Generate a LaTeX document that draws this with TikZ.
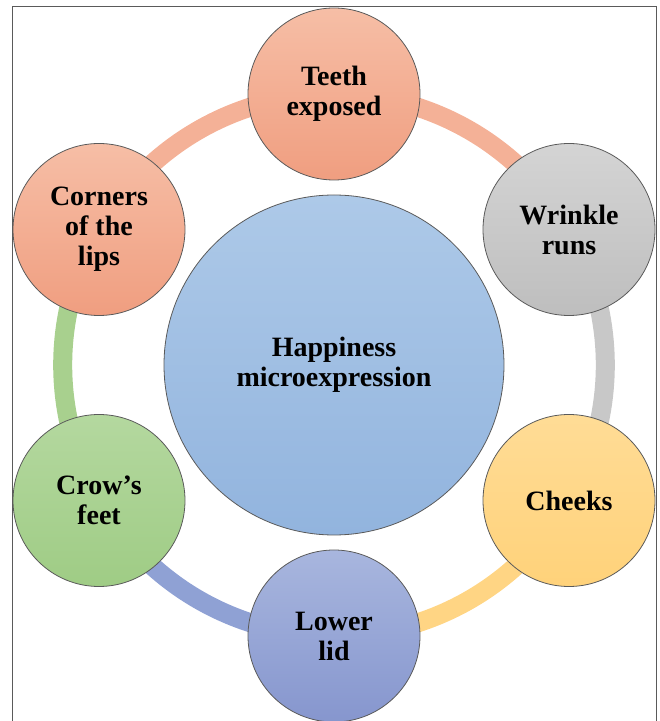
\documentclass[tikz,border=0pt]{standalone}
\usepackage{fontspec}
\setmainfont{Liberation Serif}
\usetikzlibrary{backgrounds}

% fill colours of the circles (top / bottom of the gradient) and the ring segments
\definecolor{salmonTop}{HTML}{F6BEA6}
\definecolor{salmonBot}{HTML}{F09E80}
\definecolor{salmonArc}{HTML}{F4B197}
\definecolor{greyTop}{HTML}{D4D4D4}
\definecolor{greyBot}{HTML}{BEBEBE}
\definecolor{greyArc}{HTML}{C8C8C8}
\definecolor{yellowTop}{HTML}{FFDC96}
\definecolor{yellowBot}{HTML}{FFD27A}
\definecolor{yellowArc}{HTML}{FFD584}
\definecolor{lidTop}{HTML}{A8B6DE}
\definecolor{lidBot}{HTML}{8696CE}
\definecolor{lidArc}{HTML}{8FA1D4}
\definecolor{greenTop}{HTML}{B4D89F}
\definecolor{greenBot}{HTML}{9FCC85}
\definecolor{greenArc}{HTML}{A8D08E}
\definecolor{hubTop}{HTML}{ADC9E8}
\definecolor{hubBot}{HTML}{92B4DE}
\definecolor{rimGrey}{HTML}{5A5A5A}

\tikzset{
  bubble/.style={circle, draw=rimGrey, line width=0.8pt, inner sep=0pt,
    minimum size=172pt, align=center,
    font=\fontsize{28}{30}\selectfont\bfseries},
  hub/.style={bubble, minimum size=340pt},
  ringseg/.style={line width=19pt},
}

\begin{document}
\begin{tikzpicture}[x=1pt,y=1pt]
  \useasboundingbox (0,0) rectangle (660,721);
  % outer frame (its lower edge lies below the page)
  \draw[rimGrey, line width=1pt] (12,-5) rectangle (656,714);

  % centre
  \node[hub, top color=hubTop, bottom color=hubBot] (hub) at (334,356)
    {Happiness\\microexpression};

  % six features around the ring
  \node[bubble, top color=salmonTop, bottom color=salmonBot] (teeth) at (334,627)
    {Teeth\\exposed};
  \node[bubble, top color=greyTop, bottom color=greyBot] (wrinkle) at (569,491.5)
    {Wrinkle\\runs};
  \node[bubble, top color=yellowTop, bottom color=yellowBot] (cheeks) at (569,220.5)
    {Cheeks};
  \node[bubble, top color=lidTop, bottom color=lidBot] (lid) at (334,85)
    {Lower\\lid};
  \node[bubble, top color=greenTop, bottom color=greenBot] (crow) at (99,220.5)
    {Crow’s\\feet};
  \node[bubble, top color=salmonTop, bottom color=salmonBot] (corners) at (99,491.5)
    {Corners\\of the\\lips};

  % ring segments joining neighbouring circles, behind them
  \begin{scope}[on background layer]
    \draw[ringseg, salmonArc] (teeth.center)   arc[start angle=90,   end angle=30,   radius=271pt];
    \draw[ringseg, greyArc]   (wrinkle.center) arc[start angle=30,   end angle=-30,  radius=271pt];
    \draw[ringseg, yellowArc] (cheeks.center)  arc[start angle=-30,  end angle=-90,  radius=271pt];
    \draw[ringseg, lidArc]    (lid.center)     arc[start angle=-90,  end angle=-150, radius=271pt];
    \draw[ringseg, greenArc]  (crow.center)    arc[start angle=-150, end angle=-210, radius=271pt];
    \draw[ringseg, salmonArc] (corners.center) arc[start angle=150,  end angle=90,   radius=271pt];
  \end{scope}
\end{tikzpicture}
\end{document}
